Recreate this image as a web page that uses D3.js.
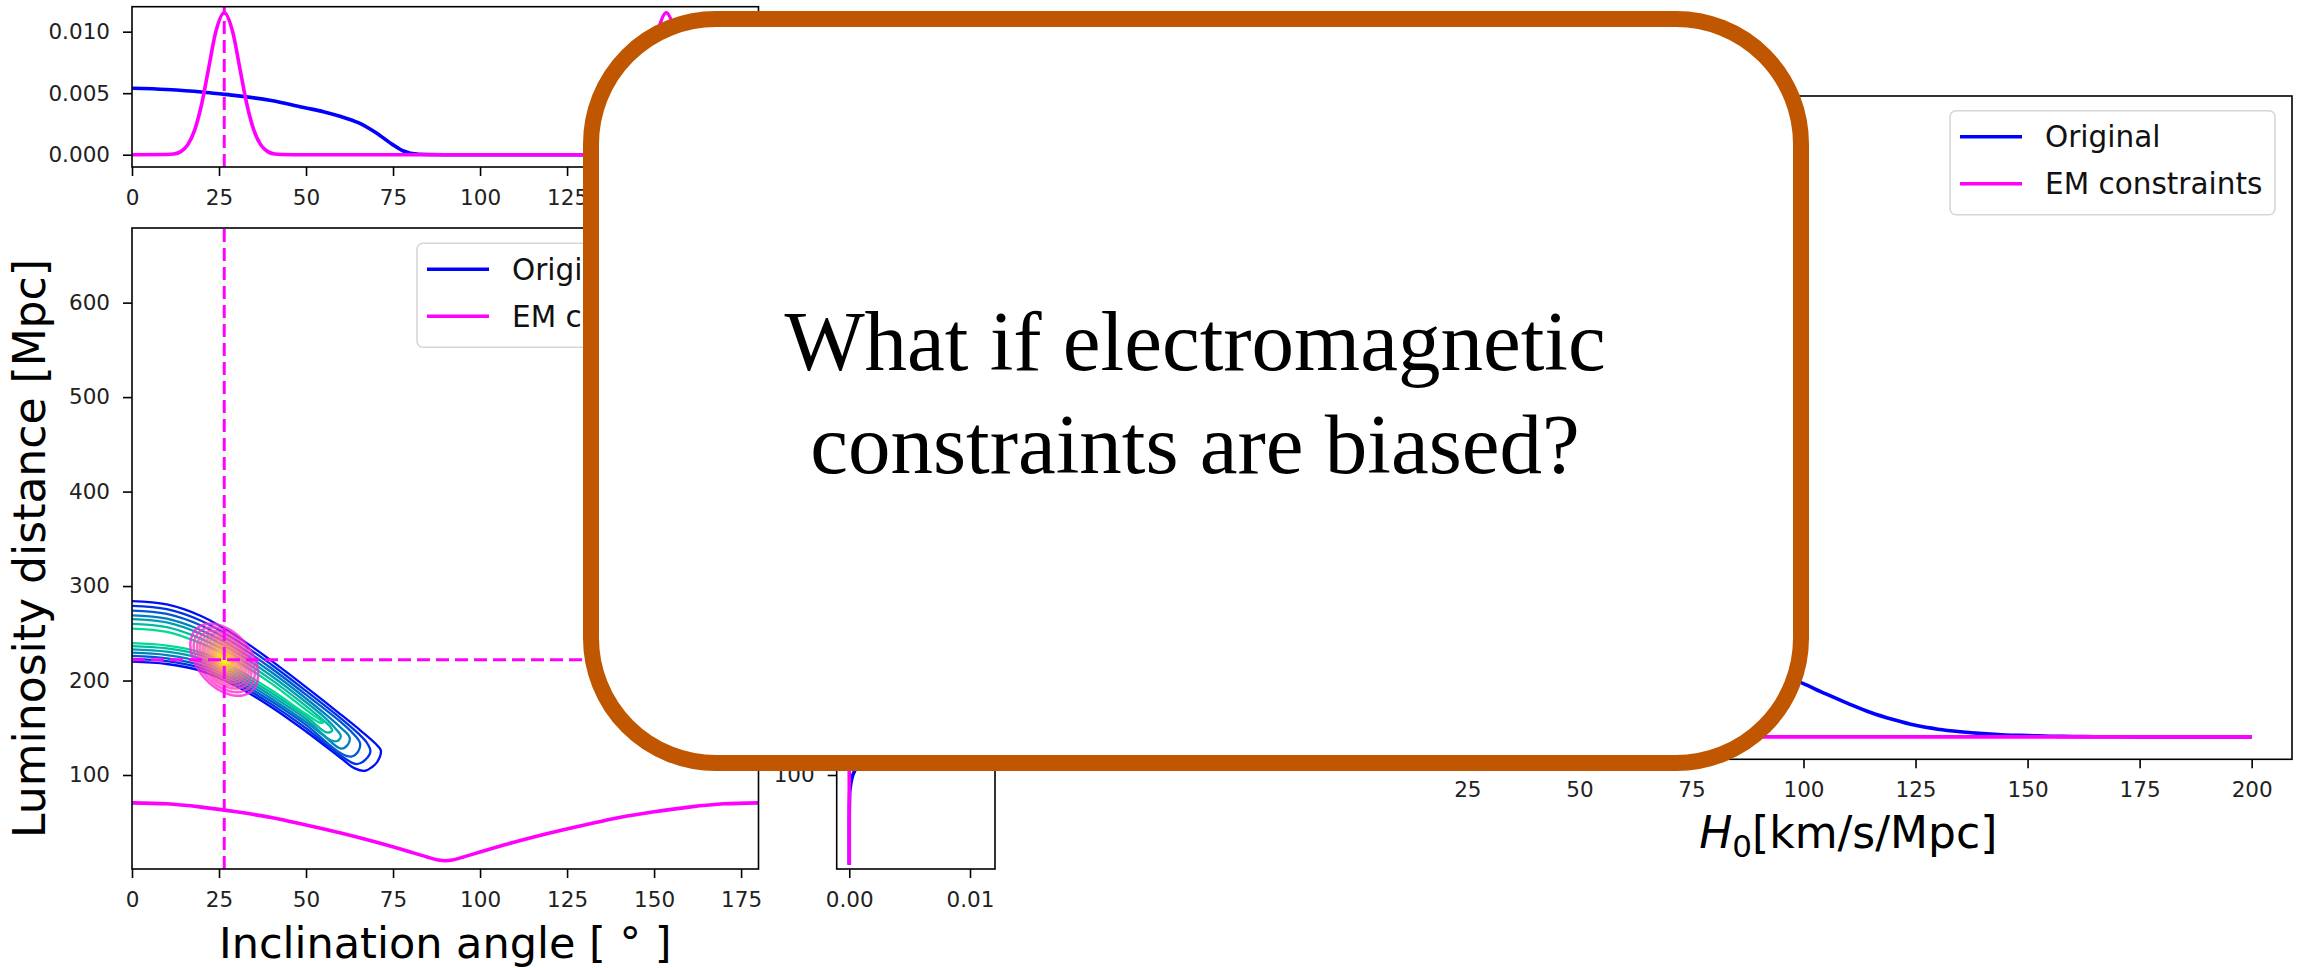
<!DOCTYPE html>
<html>
<head>
<meta charset="utf-8">
<script src="https://cdn.jsdelivr.net/npm/d3@7"></script>
<style>
  html, body { margin: 0; padding: 0; background: #fff; }
  svg { display: block; }
</style>
</head>
<body>
<svg id="fig" width="2297" height="968"></svg>
<script>
// ---------- tick values ----------
const inclTicks = [0, 25, 50, 75, 100, 125, 150, 175];
const distTicks = [100, 200, 300, 400, 500, 600];
const sideDistTicks = [100];
const densTicks = [0, 0.005, 0.010];
const densTickLabels = ["0.000", "0.005", "0.010"];
const sideTicks = [0, 0.01];
const sideTickLabels = ["0.00", "0.01"];
const h0Ticks = [25, 50, 75, 100, 125, 150, 175, 200];

// ---------- inclination marginal (top panel) ----------
const topOrigIncl = [0, 10, 20, 25, 30, 40, 50, 55, 60, 65, 70, 75, 78, 80, 85, 90, 180];
const topOrigDens = [0.0054, 0.0053, 0.0051, 0.00495, 0.0048, 0.0044, 0.0038, 0.0035, 0.0031, 0.0026, 0.0018, 0.0008, 0.0003, 0.00012, 0.00001, 0, 0];
const topEMIncl = [0, 10, 12, 14, 16, 18, 20, 22, 24, 26.5, 29, 31, 33, 35, 37, 39, 41, 43, 50,
                   130, 137, 139, 141, 143, 145, 147, 149, 151, 153.5, 156, 158, 160, 162, 164, 166, 168, 170, 180];
const topEMDens = [0, 0.00002, 0.00006, 0.00025, 0.0008, 0.0020, 0.0041, 0.0070, 0.0099, 0.01154, 0.0099, 0.0070, 0.0041, 0.0020, 0.0008, 0.00025, 0.00006, 0.00002, 0,
                   0, 0.00002, 0.00006, 0.00025, 0.0008, 0.0020, 0.0041, 0.0070, 0.0099, 0.01154, 0.0099, 0.0070, 0.0041, 0.0020, 0.0008, 0.00025, 0.00006, 0.00002, 0];

// ---------- joint panel ----------
const emPointIncl = 26.5;
const emPointDist = 222;
const emLineIncl = [0, 10, 20, 30, 40, 50, 60, 70, 80, 85, 88, 90, 92, 95, 100, 110, 120, 130, 140, 150, 160, 170, 180];
const emLineDist = [70.5, 69.5, 66, 61, 55, 47, 38.5, 29, 18.5, 13, 10, 9.2, 10, 13, 18.5, 29, 38.5, 47, 55, 61, 66, 69.5, 70.5];

// GW posterior contours, outermost first: [inclination, distance] vertices
const gwContours = [
  [[0,284],[10,280.5],[20,268],[30,247],[40,221],[50,193],[60,164],[66,146],[70,133],[71.5,126],[70.5,114],[69,108.5],[67,104.5],[64,107],[60,118],[50,146],[40,172],[30,194],[20,210],[10,217.5],[0,220]],
  [[0,279],[10,275.5],[20,263],[30,242.5],[40,217],[50,189],[60,160],[65,144],[67.5,134],[68.5,125],[67,116],[64.5,111.5],[60,120.5],[50,149.5],[40,175],[30,197],[20,213],[10,220.5],[0,223]],
  [[0,274],[10,270.5],[20,258],[30,238],[40,213],[50,185],[60,156],[63.5,144],[65.5,134],[65,125],[63,119.5],[60,123],[50,153],[40,178],[30,200],[20,216],[10,223.5],[0,226]],
  [[0,269],[10,265.5],[20,253],[30,233.5],[40,209],[50,181],[56,163],[60,150],[62.5,140],[62,132],[60,128],[55,142],[50,156],[40,181],[30,203],[20,219.5],[10,227],[0,229.5]],
  [[0,265],[10,261.5],[20,249],[30,229.5],[40,205],[50,177],[55,162],[58.5,149],[60,141],[59,136],[57,137],[50,159],[40,184],[30,206],[20,223],[10,230.5],[0,233]],
  [[0,260],[10,256.5],[20,244],[30,225],[40,201],[50,173],[54,161],[57,151],[57.5,147],[56,145],[50,162],[40,187],[30,209],[20,226.5],[10,234],[0,236.5]],
  [[0,255],[10,251.5],[20,239],[30,220.5],[40,197],[50,169],[53,161],[55,156],[54,155.5],[50,164.5],[40,190],[30,212],[20,229.5],[10,237],[0,239.5]]
];
const gwContourShade = [0.05, 0.2, 0.35, 0.5, 0.62, 0.74, 0.86];

// EM-constrained posterior: ellipse centre, principal half-axes (deg, Mpc) and level sizes
const emCenter = [26.5, 222];
const emMajorAxis = [7.9, -33.0];
const emMinorAxis = [-5.7, -19.1];
const emLevelSize = [1.0, 0.9, 0.8, 0.72, 0.64, 0.57, 0.5, 0.44, 0.38, 0.33, 0.28, 0.24, 0.2, 0.16, 0.12, 0.09, 0.06, 0.03];

// ---------- distance marginal (side panel) ----------
const sideOrigDist = [5, 50, 80, 90, 100, 110, 120, 140, 160, 180, 200, 220, 240, 260, 280, 300, 320, 340, 400, 500, 600, 675];
const sideOrigDens = [0, 0, 0.00003, 0.00012, 0.0003, 0.0007, 0.0013, 0.0027, 0.0042, 0.0058, 0.0073, 0.0086, 0.0094, 0.0088, 0.0062, 0.0030, 0.0010, 0.0002, 0, 0, 0, 0];
const sideEMDist = [5, 150, 180, 195, 205, 215, 222, 230, 240, 250, 265, 300, 675];
const sideEMDens = [0, 0, 0.0003, 0.002, 0.006, 0.010, 0.0115, 0.010, 0.006, 0.0025, 0.0004, 0, 0];

// ---------- H0 posterior ----------
const h0OrigH = [20, 25, 30, 35, 40, 45, 50, 55, 60, 65, 70, 75, 80, 85, 90, 95, 100, 105, 110, 115, 120, 125, 130, 135, 140, 145, 150, 155, 160, 165, 170, 180, 190, 200];
const h0OrigP = [0.0015, 0.0030, 0.0050, 0.0075, 0.0100, 0.0125, 0.0145, 0.0160, 0.0168, 0.0170, 0.0166, 0.0157, 0.0145, 0.0130, 0.0114, 0.0098, 0.0083, 0.0067, 0.0052, 0.0038, 0.0027, 0.0018, 0.0012, 0.0008, 0.0005, 0.0003, 0.0002, 0.0001, 0.00006, 0.00003, 0.00001, 0, 0, 0];
const h0EMH = [20, 40, 55, 58, 61, 64, 67, 70, 73, 76, 79, 82, 85, 100, 150, 200];
const h0EMP = [0, 0, 0, 0.001, 0.006, 0.025, 0.062, 0.085, 0.062, 0.025, 0.006, 0.001, 0, 0, 0, 0];

const legendLabels = ["Original", "EM constraints"];
const seriesColors = ["#0000ff", "#ff00ff"];

const titleLines = ["What if electromagnetic", "constraints are biased?"];

// ---------- scales ----------
const svg = d3.select("#fig");
const defs = svg.append("defs");

const inclX = d3.scaleLinear().domain([0, 180]).range([132, 758.5]);
const distY = d3.scaleLinear().domain([0.5, 679]).range([869, 228]);
const topY = d3.scaleLinear().domain([-0.001, 0.01203]).range([167, 6.7]);
const sideX = d3.scaleLinear().domain([-0.00104, 0.01207]).range([836.7, 995]);
const h0X = d3.scaleLinear().domain([11, 209]).range([1404.6, 2292]);
const h0Y = d3.scaleLinear().domain([-0.0035, 0.1]).range([759.3, 96]);

const SANS = "'DejaVu Sans', sans-serif";
const SERIF = "'Liberation Serif', 'Times New Roman', serif";
const LW = 3.6;
const DASH = "13,6";

function clip(id, xs, ys) {
  defs.append("clipPath").attr("id", id).append("rect")
    .attr("x", xs.range()[0]).attr("y", ys.range()[1])
    .attr("width", xs.range()[1] - xs.range()[0])
    .attr("height", ys.range()[0] - ys.range()[1]);
  return svg.append("g").attr("clip-path", `url(#${id})`);
}

function styleAxis(g) {
  g.select(".domain").remove();
  g.selectAll(".tick line").attr("stroke", "#000").attr("stroke-width", 1.6);
  g.selectAll(".tick text").attr("fill", "#222")
    .style("font-family", SANS).style("font-size", "21.5px");
}

function frame(xs, ys) {
  svg.append("rect")
    .attr("x", xs.range()[0]).attr("y", ys.range()[1])
    .attr("width", xs.range()[1] - xs.range()[0])
    .attr("height", ys.range()[0] - ys.range()[1])
    .attr("fill", "none").attr("stroke", "#000").attr("stroke-width", 1.6);
}

function xAxis(xs, ys, ticks, labels) {
  const ax = d3.axisBottom(xs).tickValues(ticks).tickSize(9).tickPadding(13.5);
  if (labels) ax.tickFormat((d, i) => labels[i]);
  svg.append("g").attr("transform", `translate(0,${ys.range()[0]})`).call(ax).call(styleAxis);
}

function yAxis(xs, ys, ticks, labels) {
  const ax = d3.axisLeft(ys).tickValues(ticks).tickSize(9).tickPadding(13);
  if (labels) ax.tickFormat((d, i) => labels[i]);
  svg.append("g").attr("transform", `translate(${xs.range()[0]},0)`).call(ax).call(styleAxis);
}

function legend(x, y) {
  const g = svg.append("g").attr("transform", `translate(${x},${y})`);
  g.append("rect").attr("width", 325).attr("height", 104).attr("rx", 6)
    .attr("fill", "#fff").attr("fill-opacity", 0.8)
    .attr("stroke", "#d6d6d6").attr("stroke-width", 1.6);
  legendLabels.forEach((lab, i) => {
    const cy = 26 + i * 47;
    g.append("line").attr("x1", 10).attr("x2", 72).attr("y1", cy).attr("y2", cy)
      .attr("stroke", seriesColors[i]).attr("stroke-width", LW);
    g.append("text").attr("x", 95).attr("y", cy + 10.5)
      .style("font-family", SANS).style("font-size", "29.5px").attr("fill", "#111").text(lab);
  });
}

// ---------- top panel: inclination marginal ----------
{
  const g = clip("clipTop", inclX, topY);
  const line = d3.line().curve(d3.curveMonotoneX);
  g.append("path").attr("fill", "none").attr("stroke", seriesColors[0]).attr("stroke-width", LW)
    .attr("d", line(topOrigIncl.map((v, i) => [inclX(v), topY(topOrigDens[i])])));
  g.append("path").attr("fill", "none").attr("stroke", seriesColors[1]).attr("stroke-width", LW)
    .attr("d", line(topEMIncl.map((v, i) => [inclX(v), topY(topEMDens[i])])));
  g.append("line").attr("x1", inclX(emPointIncl)).attr("x2", inclX(emPointIncl))
    .attr("y1", topY.range()[0]).attr("y2", topY.range()[1])
    .attr("stroke", seriesColors[1]).attr("stroke-width", 3).attr("stroke-dasharray", DASH);
  frame(inclX, topY);
  xAxis(inclX, topY, inclTicks);
  yAxis(inclX, topY, densTicks, densTickLabels);
}

// ---------- joint panel ----------
{
  const g = clip("clipMain", inclX, distY);
  const winter = t => d3.rgb(0, 255 * t, 255 * (1 - 0.5 * t)).toString();
  const spring = t => d3.rgb(255, 255 * t, 255 * (1 - t)).toString();
  const cline = d3.line().x(d => inclX(d[0])).y(d => distY(d[1])).curve(d3.curveCatmullRom.alpha(0.5));

  gwContours.forEach((pts, k) => {
    g.append("path").attr("fill", "none").attr("stroke", winter(gwContourShade[k]))
      .attr("stroke-width", 2.3).attr("d", cline(pts));
  });

  const eline = d3.line().curve(d3.curveLinearClosed);
  const angles = d3.range(0, 360, 5).map(a => a * Math.PI / 180);
  emLevelSize.forEach((s, k) => {
    const pts = angles.map(a => {
      const di = emCenter[0] + s * (Math.cos(a) * emMajorAxis[0] + Math.sin(a) * emMinorAxis[0]);
      const dd = emCenter[1] + s * (Math.cos(a) * emMajorAxis[1] + Math.sin(a) * emMinorAxis[1]);
      return [inclX(di), distY(dd)];
    });
    const t = k / (emLevelSize.length - 1);
    g.append("path").attr("fill", "none").attr("stroke", spring(0.15 + 0.85 * t))
      .attr("stroke-opacity", 0.8).attr("stroke-width", 2.6).attr("d", eline(pts));
  });

  g.append("path").attr("fill", "none").attr("stroke", seriesColors[1]).attr("stroke-width", LW)
    .attr("d", d3.line().curve(d3.curveMonotoneX)(emLineIncl.map((v, i) => [inclX(v), distY(emLineDist[i])])));

  g.append("line").attr("x1", inclX(emPointIncl)).attr("x2", inclX(emPointIncl))
    .attr("y1", distY.range()[0]).attr("y2", distY.range()[1])
    .attr("stroke", seriesColors[1]).attr("stroke-width", 3).attr("stroke-dasharray", DASH);
  g.append("line").attr("x1", inclX.range()[0]).attr("x2", inclX.range()[1])
    .attr("y1", distY(emPointDist)).attr("y2", distY(emPointDist))
    .attr("stroke", seriesColors[1]).attr("stroke-width", 3).attr("stroke-dasharray", DASH);

  frame(inclX, distY);
  xAxis(inclX, distY, inclTicks);
  yAxis(inclX, distY, distTicks);
  legend(417, 243.3);

  svg.append("text").attr("transform", `translate(45,${(distY.range()[0] + distY.range()[1]) / 2}) rotate(-90)`)
    .attr("text-anchor", "middle").style("font-family", SANS).style("font-size", "44px").attr("fill", "#000")
    .text("Luminosity distance [Mpc]");
  svg.append("text").attr("x", (inclX.range()[0] + inclX.range()[1]) / 2).attr("y", 958)
    .attr("text-anchor", "middle").style("font-family", SANS).style("font-size", "43px").attr("fill", "#000")
    .text("Inclination angle [ ° ]");
}

// ---------- side panel: distance marginal ----------
{
  const g = clip("clipSide", sideX, distY);
  const line = d3.line().curve(d3.curveMonotoneY);
  g.append("path").attr("fill", "none").attr("stroke", seriesColors[0]).attr("stroke-width", LW)
    .attr("d", line(sideOrigDist.map((v, i) => [sideX(sideOrigDens[i]), distY(v)])));
  g.append("path").attr("fill", "none").attr("stroke", seriesColors[1]).attr("stroke-width", LW)
    .attr("d", line(sideEMDist.map((v, i) => [sideX(sideEMDens[i]), distY(v)])));
  g.append("line").attr("x1", sideX.range()[0]).attr("x2", sideX.range()[1])
    .attr("y1", distY(emPointDist)).attr("y2", distY(emPointDist))
    .attr("stroke", seriesColors[1]).attr("stroke-width", 3).attr("stroke-dasharray", DASH);
  frame(sideX, distY);
  xAxis(sideX, distY, sideTicks, sideTickLabels);
  yAxis(sideX, distY, sideDistTicks);
}

// ---------- H0 panel ----------
{
  const g = clip("clipH0", h0X, h0Y);
  const line = d3.line().curve(d3.curveMonotoneX);
  g.append("path").attr("fill", "none").attr("stroke", seriesColors[0]).attr("stroke-width", LW)
    .attr("d", line(h0OrigH.map((v, i) => [h0X(v), h0Y(h0OrigP[i])])));
  g.append("path").attr("fill", "none").attr("stroke", seriesColors[1]).attr("stroke-width", LW)
    .attr("d", line(h0EMH.map((v, i) => [h0X(v), h0Y(h0EMP[i])])));
  frame(h0X, h0Y);
  xAxis(h0X, h0Y, h0Ticks);
  legend(1950, 110.7);

  const lab = svg.append("text").attr("x", (h0X.range()[0] + h0X.range()[1]) / 2).attr("y", 848)
    .attr("text-anchor", "middle").style("font-family", SANS).style("font-size", "44px").attr("fill", "#000");
  lab.append("tspan").style("font-style", "italic").text("H");
  lab.append("tspan").style("font-size", "31px").attr("dy", 9).text("0");
  lab.append("tspan").attr("dy", -9).text("[km/s/Mpc]");
}

// ---------- callout box ----------
{
  const g = svg.append("g");
  g.append("rect").attr("x", 591).attr("y", 19).attr("width", 1210).attr("height", 744)
    .attr("rx", 125).attr("ry", 125)
    .attr("fill", "#fff").attr("stroke", "#c05600").attr("stroke-width", 16);
  titleLines.forEach((t, i) => {
    g.append("text").attr("x", 1195).attr("y", 370 + i * 103)
      .attr("text-anchor", "middle").style("font-family", SERIF)
      .style("font-size", "85px").attr("fill", "#000").text(t);
  });
}
</script>
</body>
</html>
